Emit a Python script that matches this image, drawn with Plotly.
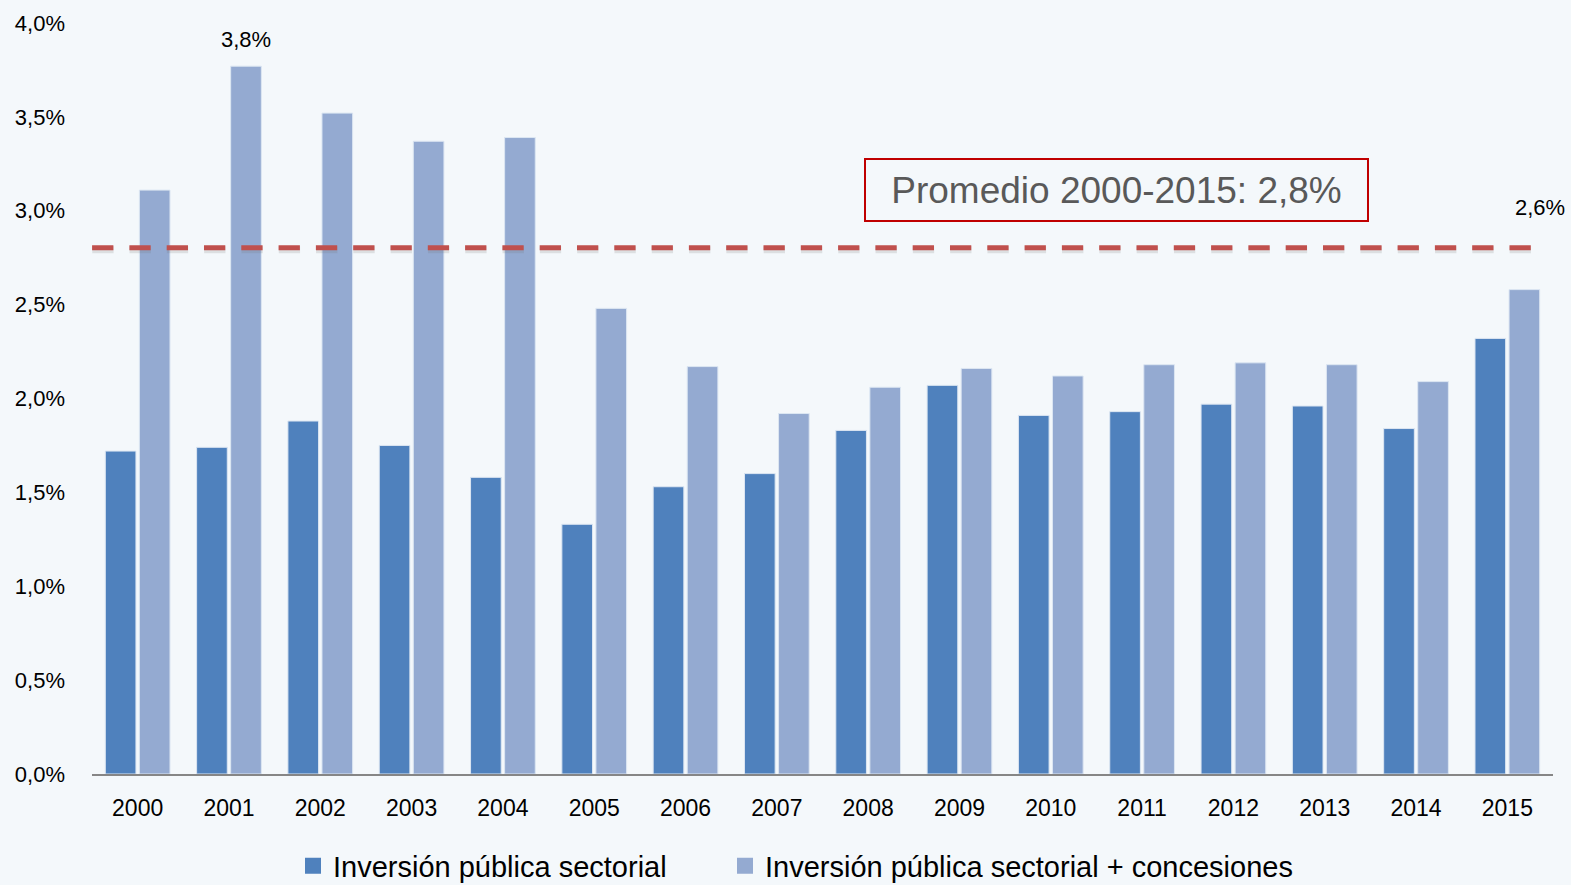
import plotly.graph_objects as go

years = [str(y) for y in range(2000, 2016)]
sectorial = [1.72, 1.74, 1.88, 1.75, 1.58, 1.33, 1.53, 1.60, 1.83, 2.07, 1.91, 1.93, 1.97, 1.96, 1.84, 2.32]
concesiones = [3.11, 3.77, 3.52, 3.37, 3.39, 2.48, 2.17, 1.92, 2.06, 2.16, 2.12, 2.18, 2.19, 2.18, 2.09, 2.58]
promedio = 2.803
ytick_vals = [0, 0.5, 1.0, 1.5, 2.0, 2.5, 3.0, 3.5, 4.0]
ytick_text = ["0,0%", "0,5%", "1,0%", "1,5%", "2,0%", "2,5%", "3,0%", "3,5%", "4,0%"]
series_names = ["Inversión pública sectorial", "Inversión pública sectorial + concesiones"]
box_text = "Promedio 2000-2015: 2,8%"

bg = "#F4F8FB"
dark = "#4F81BD"
light = "#94AAD1"

fig = go.Figure()
fig.add_trace(go.Bar(x=years, y=sectorial, name=series_names[0], showlegend=False,
                     marker=dict(color=dark, line=dict(color="#DCE6F2", width=1))))
fig.add_trace(go.Bar(x=years, y=concesiones, name=series_names[1], showlegend=False,
                     marker=dict(color=light, line=dict(color="#DCE6F2", width=1))))
# legend entries with square markers (two separate legends for exact placement)
for nm, col, lg in zip(series_names, [dark, light], ["legend", "legend2"]):
    fig.add_trace(go.Scatter(x=[None], y=[None], mode="markers", name=nm, legend=lg,
                             marker=dict(symbol="square", size=18, color=col)))

# soft shadow + dashed average line
fig.add_shape(type="line", xref="x", yref="y", x0=-0.497, x1=15.298, y0=promedio - 0.011, y1=promedio - 0.011,
              line=dict(color="rgba(110,110,110,0.18)", width=7, dash="21.3px,16px"), layer="above")
fig.add_shape(type="line", xref="x", yref="y", x0=-0.499, x1=15.296, y0=promedio, y1=promedio,
              line=dict(color="#C0504D", width=5, dash="21.3px,16px"), layer="above")

fig.add_annotation(x=1.19, y=3.91, xref="x", yref="y", text="3,8%", showarrow=False,
                   font=dict(family="Liberation Sans, Arial", size=22, color="#000000"))
fig.add_annotation(x=15.36, y=3.02, xref="x", yref="y", text="2,6%", showarrow=False,
                   font=dict(family="Liberation Sans, Arial", size=22, color="#000000"))
fig.add_annotation(x=10.72, y=3.11, xref="x", yref="y", text=box_text, showarrow=False,
                   font=dict(family="Liberation Sans, Arial", size=37, color="#595959"),
                   bordercolor="#C00000", borderwidth=2, borderpad=0, width=501, height=60,
                   bgcolor=bg)

leg_common = dict(orientation="h", xanchor="left", yref="container", y=1 - 866 / 885, yanchor="middle",
                  font=dict(size=29, color="#000000"), bgcolor="rgba(0,0,0,0)", itemwidth=30)

fig.update_layout(
    width=1571, height=885,
    paper_bgcolor=bg, plot_bgcolor=bg,
    margin=dict(l=92, r=18, t=23, b=111),
    barmode="group", bargap=0.254, bargroupgap=0.1,
    font=dict(family="Liberation Sans, Arial", color="#000000"),
    legend=dict(x=(293 - 92) / 1461, **leg_common),
    legend2=dict(x=(725 - 92) / 1461, **leg_common),
    xaxis=dict(type="category", showgrid=False, showline=True, linecolor="#868686", linewidth=2,
               ticks="", tickfont=dict(size=23), range=[-0.5, 15.5], ticklabelstandoff=12),
    yaxis=dict(range=[0, 4], tickvals=ytick_vals, ticktext=ytick_text, showgrid=False,
               zeroline=False, showline=False, ticks="", tickfont=dict(size=22),
               ticklabelstandoff=26),
)

fig.write_html("out.html", config={"displayModeBar": False},
               post_script="document.body.style.margin='0';document.body.style.background='#F4F8FB';")
